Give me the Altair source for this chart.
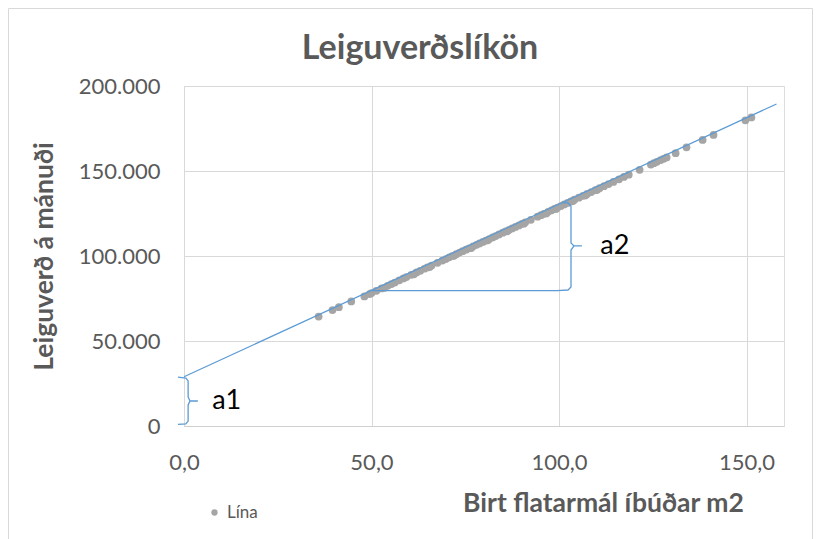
import altair as alt
import pandas as pd

# Scatter points ("Lína")
pts_x = [35.9, 39.6, 41.3, 44.6, 48.1, 49.5, 50.0, 51.3, 52.7, 54.3, 55.3, 56.2, 57.4, 58.5,
         59.3, 60.6, 62.0, 63.0, 64.1, 64.9, 66.0, 67.6, 68.9, 69.8, 70.7, 71.5, 72.6, 73.5,
         74.3, 75.2, 76.0, 77.1, 78.0, 78.8, 79.7, 80.5, 81.4, 82.3, 83.1, 84.0, 85.0, 85.8,
         86.7, 87.5, 88.4, 89.3, 90.1, 91.0, 92.5, 94.3, 95.2, 96.0, 97.1, 98.0, 98.8, 99.6,
         100.5, 101.4, 102.3, 103.2, 104.1, 105.3, 106.4, 107.5, 108.6, 109.7, 110.8, 112.0,
         113.2, 114.5, 116.0, 117.3, 118.6, 121.5, 124.5, 125.3, 126.1, 127.1, 127.9, 128.7,
         131.1, 134.0, 138.3, 141.2, 149.7, 151.3,
         53.5, 61.3, 65.5, 72.0, 76.6, 81.0, 86.2, 90.6, 96.6, 99.2, 103.7, 107.0, 110.2]
pts_y = [64400, 68200, 69900, 73300, 76200, 77600, 78200, 79500, 80900, 82500, 83500, 84400,
         85700, 86800, 87600, 88900, 90300, 91300, 92500, 93300, 94400, 96000, 97300, 98200,
         99200, 100000, 101100, 102000, 102800, 103700, 104500, 105700, 106600, 107400,
         108300, 109100, 110000, 110900, 111700, 112700, 113700, 114500, 115400, 116200,
         117100, 118000, 118900, 119800, 121300, 123100, 124000, 124800, 126000, 126900,
         127700, 128500, 129400, 130300, 131200, 132100, 133100, 134300, 135400, 136500,
         137600, 138700, 139900, 141100, 142300, 143600, 145100, 146500, 147800, 150700,
         153800, 154600, 155400, 156400, 157200, 158000, 160500, 163900, 168300, 171200,
         179800, 181500,
         81300, 89200, 93500, 100100, 104700, 109200, 114500, 119000, 125000, 127700,
         132300, 135600, 138900]
series_name = "Lína"

# Trend line end points
trend_x = [0, 158]
trend_y = [29000, 189400]

# Brace a1 (intercept)
b1_x = [-1.6, 0.5, 1.1, 1.1, 1.6, 3.7, 1.6, 1.1, 1.1, 0.5, -1.6]
b1_y = [28800, 28200, 26500, 17100, 14700, 14700, 14700, 12400, 2900, 1200, 1000]

# Brace a2 (slope step)
b2_x = [50.0, 99.5, 102.4, 103.2, 103.2, 104.0, 106.1, 104.0, 103.2, 103.2, 102.4, 100.8]
b2_y = [79600, 79600, 80000, 81800, 103500, 105900, 105900, 105900, 107600, 129400, 131200, 131400]

lab_text = ["a1", "a2"]
lab_x = [11.4, 114.9]
lab_y = [14700, 105900]

chart_title = "Leiguverðslíkön"
x_title = "Birt flatarmál íbúðar m2"
y_title = "Leiguverð á mánuði"

x_ticks = [0, 50, 100, 150]
y_ticks = [0, 50000, 100000, 150000, 200000]

FONT = "Lato"
TXT = "#595959"
BLUE = "#5B9BD5"

pts = pd.DataFrame({"x": pts_x, "y": pts_y, "s": series_name})
trend = pd.DataFrame({"x": trend_x, "y": trend_y})
b1 = pd.DataFrame({"x": b1_x, "y": b1_y, "i": list(range(len(b1_x)))})
b2 = pd.DataFrame({"x": b2_x, "y": b2_y, "i": list(range(len(b2_x)))})
labs = pd.DataFrame({"t": lab_text, "x": lab_x, "y": lab_y})
ttl = pd.DataFrame({"t": [chart_title]})

xs = alt.Scale(domain=[0, 160], nice=False, zero=False)
ys = alt.Scale(domain=[0, 200000], nice=False)

xax = alt.Axis(values=x_ticks, grid=True, gridColor="#D9D9D9", domainColor="#D0D0D0",
               ticks=False, tickSize=0, labelFont=FONT, labelFontSize=22, labelColor=TXT,
               labelPadding=26, labelFlush=False, labelOverlap=False,
               labelExpr="replace(format(datum.value, '.1f'), '.', ',')",
               title=x_title, titleFont=FONT, titleFontSize=26.5,
               titleFontWeight="bold", titleColor=TXT, titleX=419, titleY=77,
               titleBaseline="middle", titleAlign="center")
yax = alt.Axis(values=y_ticks, grid=True, gridColor="#D9D9D9", domain=False,
               ticks=False, tickSize=0, labelFont=FONT, labelFontSize=22, labelColor=TXT,
               labelPadding=24, labelFlush=False, labelOverlap=False,
               labelExpr="replace(format(datum.value, ','), ',', '.')",
               title=y_title, titleFont=FONT, titleFontSize=26.5,
               titleFontWeight="bold", titleColor=TXT, titleX=-140, titleY=170,
               titleAngle=-90, titleBaseline="middle", titleAlign="center")

frame = alt.Chart(alt.Data(values=[{}])).mark_rect(
    fill=None, stroke="#D9D9D9", strokeWidth=1
).encode(x=alt.value(-175.5), x2=alt.value(628.5), y=alt.value(-77.5), y2=alt.value(520))

title_mark = alt.Chart(ttl).mark_text(
    font=FONT, fontSize=34, fontWeight="bold", color=TXT, align="center",
    baseline="alphabetic"
).encode(x=alt.value(236), y=alt.value(-27), text="t:N")

points = alt.Chart(pts).mark_circle(size=60, opacity=1).encode(
    x=alt.X("x:Q", scale=xs, axis=xax),
    y=alt.Y("y:Q", scale=ys, axis=yax),
    color=alt.Color("s:N", scale=alt.Scale(range=["#A5A5A5"]),
                    legend=alt.Legend(title=None, orient="none", legendX=22, legendY=418,
                                      symbolType="circle", symbolSize=40,
                                      labelFont=FONT, labelFontSize=17, labelColor=TXT,
                                      padding=0)),
)

trend_line = alt.Chart(trend).mark_line(color=BLUE, strokeWidth=1.2).encode(
    x=alt.X("x:Q", scale=xs), y=alt.Y("y:Q", scale=ys))

brace1 = alt.Chart(b1).mark_line(color=BLUE, strokeWidth=1.3, interpolate="linear").encode(
    x=alt.X("x:Q", scale=xs), y=alt.Y("y:Q", scale=ys), order="i:Q")
brace2 = alt.Chart(b2).mark_line(color=BLUE, strokeWidth=1.3, interpolate="linear").encode(
    x=alt.X("x:Q", scale=xs), y=alt.Y("y:Q", scale=ys), order="i:Q")

labels = alt.Chart(labs).mark_text(font=FONT, fontSize=27, color="#000000",
                                   align="center", baseline="middle").encode(
    x=alt.X("x:Q", scale=xs), y=alt.Y("y:Q", scale=ys), text="t:N")

chart = alt.layer(frame, title_mark, points, trend_line, brace1, brace2, labels).properties(
    width=600, height=340,
    autosize=alt.AutoSizeParams(type="none"),
    padding={"left": 176, "top": 78, "right": 29, "bottom": 113},
).configure_view(stroke=None).configure(background="white")

chart.save("out.html", embed_options={"renderer": "svg", "actions": False})
